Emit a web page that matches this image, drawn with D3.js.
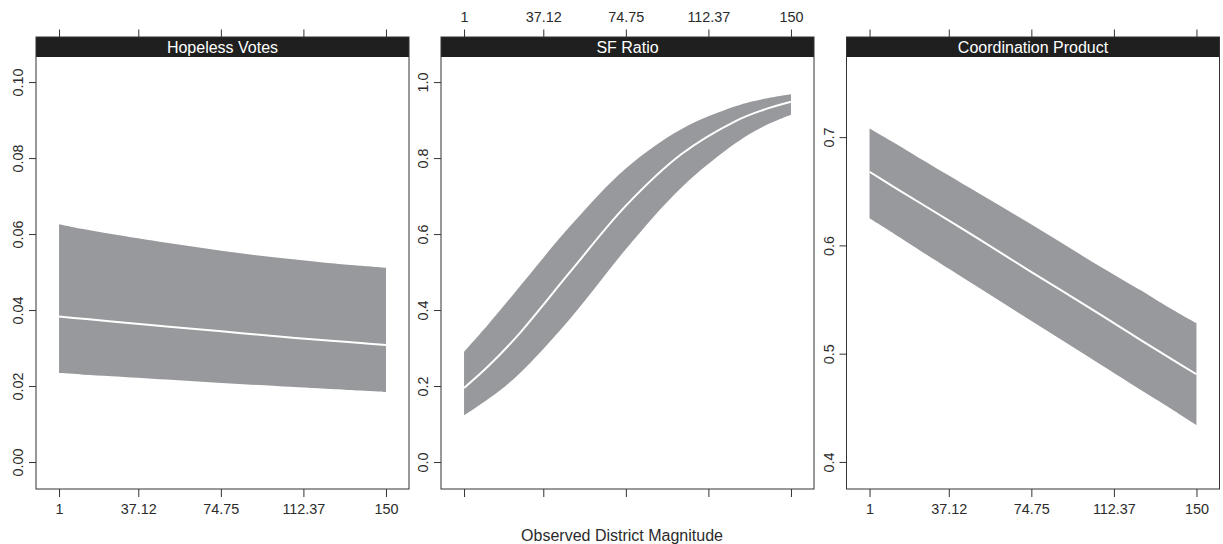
<!DOCTYPE html>
<html>
<head>
<meta charset="utf-8">
<script src="https://cdn.jsdelivr.net/npm/d3@7/dist/d3.min.js"></script>
<style>
  * { margin: 0; padding: 0; }
  body { background: #fff; }
  svg { display: block; font-family: "Liberation Sans", Arial, Helvetica, sans-serif; }
  .tick text { fill: #2b2b2b; }
  .tick line { stroke: #333; }
</style>
</head>
<body>
<script>
// magnitude values where the estimates were read
const xs = [1, 12, 25, 50, 75, 100, 125, 137, 150];
const xTickValues = [1, 37.12, 74.75, 112.37, 150];

const panelTitles = ["Hopeless Votes", "SF Ratio", "Coordination Product"];

const hopelessMean  = [0.0383, 0.0377, 0.0370, 0.0357, 0.0344, 0.0331, 0.0319, 0.0314, 0.0308];
const hopelessLower = [0.0234, 0.0230, 0.0226, 0.0217, 0.0208, 0.0200, 0.0192, 0.0188, 0.0184];
const hopelessUpper = [0.0626, 0.0613, 0.0600, 0.0577, 0.0556, 0.0538, 0.0523, 0.0517, 0.0511];

const sfMean  = [0.195, 0.252, 0.330, 0.505, 0.676, 0.810, 0.898, 0.926, 0.948];
const sfLower = [0.123, 0.166, 0.226, 0.382, 0.562, 0.722, 0.840, 0.882, 0.914];
const sfUpper = [0.290, 0.362, 0.452, 0.625, 0.774, 0.876, 0.937, 0.955, 0.968];

const coordMean  = [0.668, 0.654, 0.638, 0.607, 0.575, 0.544, 0.512, 0.497, 0.481];
const coordLower = [0.625, 0.611, 0.594, 0.562, 0.530, 0.498, 0.466, 0.451, 0.434];
const coordUpper = [0.708, 0.695, 0.679, 0.649, 0.619, 0.588, 0.558, 0.543, 0.528];

const hopelessTicks = [0, 0.02, 0.04, 0.06, 0.08, 0.10];
const sfTicks = [0, 0.2, 0.4, 0.6, 0.8, 1.0];
const coordTicks = [0.4, 0.5, 0.6, 0.7];

const W = 1223, H = 544;
const panelLeft = [36, 441, 846.5];
const panelW = 373;
const stripTop = 37, stripH = 20, plotBottom = 489;

const panels = [
  { title: panelTitles[0], mean: hopelessMean, lo: hopelessLower, hi: hopelessUpper,
    ticks: hopelessTicks, fmt: d3.format(".2f"), dom: [-0.0071, 0.1066], topLabels: false, bottomLabels: true },
  { title: panelTitles[1], mean: sfMean, lo: sfLower, hi: sfUpper,
    ticks: sfTicks, fmt: d3.format(".1f"), dom: [-0.071, 1.066], topLabels: true, bottomLabels: false },
  { title: panelTitles[2], mean: coordMean, lo: coordLower, hi: coordUpper,
    ticks: coordTicks, fmt: d3.format(".1f"), dom: [0.375, 0.774], topLabels: false, bottomLabels: true }
];

const svg = d3.select("body").append("svg").attr("width", W).attr("height", H);

panels.forEach((p, i) => {
  const x0 = panelLeft[i];
  const x = d3.scaleLinear().domain([-9.5, 160.5]).range([x0, x0 + panelW]);
  const y = d3.scaleLinear().domain(p.dom).range([plotBottom, stripTop + stripH]);
  const rows = xs.map((v, k) => ({ x: v, m: p.mean[k], lo: p.lo[k], hi: p.hi[k] }));

  const g = svg.append("g");

  g.append("path")
    .datum(rows)
    .attr("fill", "#98999c")
    .attr("d", d3.area().curve(d3.curveCatmullRom)
      .x(d => x(d.x)).y0(d => y(d.lo)).y1(d => y(d.hi)));

  g.append("path")
    .datum(rows)
    .attr("fill", "none")
    .attr("stroke", "#fff")
    .attr("stroke-width", 2)
    .attr("d", d3.line().curve(d3.curveCatmullRom).x(d => x(d.x)).y(d => y(d.m)));

  // strip
  g.append("rect")
    .attr("x", x0).attr("y", stripTop)
    .attr("width", panelW).attr("height", stripH)
    .attr("fill", "#1f1f1f");
  g.append("text")
    .attr("x", x0 + panelW / 2).attr("y", stripTop + 15.5)
    .attr("text-anchor", "middle")
    .attr("fill", "#fff")
    .attr("font-size", 16)
    .text(p.title);

  // frame
  g.append("rect")
    .attr("x", x0).attr("y", stripTop)
    .attr("width", panelW).attr("height", plotBottom - stripTop)
    .attr("fill", "none").attr("stroke", "#333").attr("stroke-width", 1);

  // left axis
  const ya = g.append("g")
    .attr("transform", `translate(${x0},0)`)
    .call(d3.axisLeft(y).tickValues(p.ticks).tickFormat(p.fmt).tickSize(7).tickSizeOuter(0));
  ya.select(".domain").remove();
  ya.selectAll("text")
    .attr("transform", "rotate(-90)")
    .attr("text-anchor", "middle")
    .attr("x", 0).attr("y", -13).attr("dy", 0)
    .attr("font-size", 14.4).attr("font-family", null);

  // bottom axis
  const xb = g.append("g")
    .attr("transform", `translate(0,${plotBottom})`)
    .call(d3.axisBottom(x).tickValues(xTickValues).tickFormat(d3.format("")).tickSize(8).tickSizeOuter(0));
  xb.select(".domain").remove();
  xb.selectAll("text")
    .attr("y", 25).attr("dy", 0)
    .attr("font-size", 14.4).attr("font-family", null)
    .style("display", p.bottomLabels ? null : "none");

  // top axis
  const xt = g.append("g")
    .attr("transform", `translate(0,${stripTop})`)
    .call(d3.axisTop(x).tickValues(xTickValues).tickFormat(d3.format("")).tickSize(7.5).tickSizeOuter(0));
  xt.select(".domain").remove();
  xt.selectAll("text")
    .attr("y", -14.7).attr("dy", 0)
    .attr("font-size", 14.4).attr("font-family", null)
    .style("display", p.topLabels ? null : "none");
});

svg.append("text")
  .attr("x", 622).attr("y", 541)
  .attr("text-anchor", "middle")
  .attr("font-size", 16)
  .attr("fill", "#2b2b2b")
  .text("Observed District Magnitude");
</script>
</body>
</html>
